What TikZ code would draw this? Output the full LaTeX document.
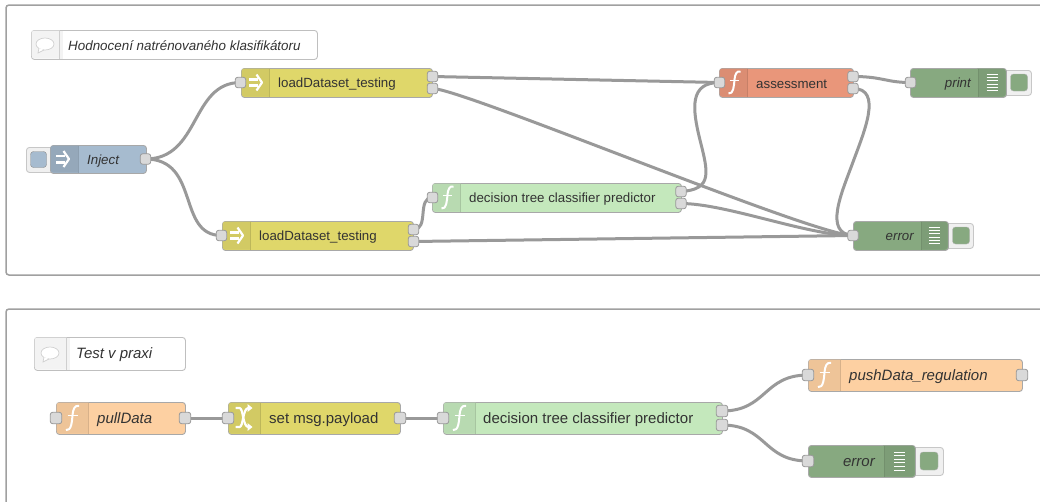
\documentclass[tikz,border=0pt]{standalone}
\usepackage{fontspec}
\setmainfont{Liberation Sans}
\usetikzlibrary{backgrounds}
\definecolor{wirec}{HTML}{999999}
\definecolor{framec}{HTML}{A0A0A0}
\definecolor{portc}{HTML}{D9D9D9}
\definecolor{txt}{HTML}{333333}
\definecolor{injc}{HTML}{A6BBCF}
\definecolor{yelc}{HTML}{DFD76A}
\definecolor{orac}{HTML}{FDD0A2}
\definecolor{grnc}{HTML}{C4E8BC}
\definecolor{salc}{HTML}{E9967A}
\definecolor{dbgc}{HTML}{87A980}
\definecolor{cmtc}{HTML}{F3F3F3}
\tikzset{
  x=1pt,y=-1pt,
  wire/.style={draw=wirec,line width=3pt,line cap=round},
  frame/.style={draw=framec,line width=1.5pt,rounded corners=3pt},
  box/.style={draw=wirec!85,line width=.9pt,rounded corners=3pt,inner sep=0pt,anchor=north west},
  port/.style={draw=wirec,fill=portc,line width=.8pt,rounded corners=2.5pt,minimum width=10.5pt,minimum height=10.5pt,inner sep=0pt},
  portb/.style={port,minimum width=11.5pt,minimum height=11.5pt},
  labl/.style={text=txt,anchor=west,inner sep=0pt,yshift=-1.5pt,font=\fontsize{13.3}{15}\selectfont},
  labi/.style={labl,font=\fontsize{13.3}{15}\selectfont\itshape},
  lablb/.style={labl,font=\fontsize{15}{17}\selectfont},
  labib/.style={labl,font=\fontsize{15}{17}\selectfont\itshape},
  labc/.style={labl,font=\fontsize{13.4}{15}\selectfont\itshape},
  ico/.style={draw=white,line width=1.4pt,line cap=round,line join=round},
}
\newcommand{\flowbox}[6]{%
  \node[box,fill=#6,minimum width={(#4-#2)*1pt},minimum height={(#5-#3)*1pt}] (#1) at (#2,#3) {};
}
\newcommand{\iconleft}[6]{% x1,y1,xdiv,y2,colour,shade
  \fill[#5!#6!black,rounded corners=3pt] (#1+.5,#2+.5) -- (#3+3,#2+.5) -- (#3+3,#4-.5) -- (#1+.5,#4-.5) -- cycle;
  \fill[#5] (#3,#2+.5) rectangle (#3+4,#4-.5);
  \draw[#5!85!black,line width=.5pt] (#3,#2+.5) -- (#3,#4-.5);
}
\newcommand{\iconright}[5]{% xdiv,y1,x2,y2,colour
  \fill[#5!93!black,rounded corners=3pt] (#1-3,#2+.5) -- (#3-.5,#2+.5) -- (#3-.5,#4-.5) -- (#1-3,#4-.5) -- cycle;
  \fill[#5] (#1-4,#2+.5) rectangle (#1,#4-.5);
  \draw[#5!85!black,line width=.5pt] (#1,#2+.5) -- (#1,#4-.5);
}
\newcommand{\fnicon}[3]{% cx, cy, scale
  \draw[ico,line width=2pt,line cap=butt] (#1+6.5*#3,#2-11*#3) .. controls (#1+2.5*#3,#2-12*#3) and (#1+1*#3,#2-8*#3) .. (#1+.5*#3,#2-3*#3) .. controls (#1,#2+3*#3) and (#1-.5*#3,#2+12*#3) .. (#1-5.5*#3,#2+11*#3);
  \draw[ico,line width=1.2pt,line cap=butt] (#1-4*#3,#2-2*#3) -- (#1+5*#3,#2-2*#3);
}
\newcommand{\arrowicon}[3]{% cx, cy, scale
  \draw[ico,line width=2.6pt,line cap=butt] (#1-7*#3,#2-3.2*#3) -- (#1+2*#3,#2-3.2*#3) (#1-7*#3,#2+3.2*#3) -- (#1+2*#3,#2+3.2*#3);
  \draw[ico,line width=2.2pt,line cap=butt] (#1+.5*#3,#2-8*#3) -- (#1+6*#3,#2) -- (#1+.5*#3,#2+8*#3);
}
\newcommand{\shuffleicon}[2]{% cx, cy
  \draw[ico,line width=2.2pt,line cap=butt] (#1-8,#2-10) -- (#1-4,#2-10) .. controls (#1,#2-10) and (#1-1,#2+9) .. (#1+5,#2+9);
  \draw[ico,line width=2.2pt,line cap=butt] (#1-8,#2+9) -- (#1-4,#2+9) .. controls (#1,#2+9) and (#1-1,#2-10) .. (#1+5,#2-10);
  \fill[white] (#1+4,#2-14) -- (#1+9,#2-10) -- (#1+4,#2-6) -- cycle (#1+4,#2+5) -- (#1+9,#2+9) -- (#1+4,#2+13) -- cycle;
}
\newcommand{\dbgicon}[3]{% cx, cy, spacing
  \foreach \k in {-3,-2,-1,0,1,2}{\draw[white,line width=1pt] (#1-5.5,#2+\k*#3+.5*#3) -- (#1+5.5,#2+\k*#3+.5*#3);}
}
\newcommand{\bubble}[2]{% cx, cy
  \draw[draw=black!18,fill=white,line width=.7pt] (#1,#2) ellipse (9 and 6);
  \draw[draw=black!18,fill=white,line width=.7pt] (#1-6,#2+4) -- (#1-7,#2+9) -- (#1-1,#2+6);
}
\newcommand{\btn}[5]{% name,x1,y1,x2,y2
  \node[box,draw=black!22,fill=black!6,minimum width={(#4-#2)*1pt},minimum height={(#5-#3)*1pt}] (#1) at (#2,#3) {};
}
\begin{document}
\begin{tikzpicture}
\useasboundingbox (0,0) rectangle (1040,501);
\begin{scope}[on background layer]
\fill[white] (0,0) rectangle (1040,501);
\draw[frame] (1045,5) -- (6,5) -- (6,275) -- (1045,275);
\draw[frame] (1045,309) -- (6,309) -- (6,510);
\end{scope}

% ---- top panel
\node[box,draw=black!25,fill=white] (c1) at (31,30) [minimum width=286pt,minimum height=29pt] {};
\iconleft{31}{30}{59}{59}{cmtc}{100}
\bubble{45}{44}
\node[labc] (c1t) at (68,44.5) {Hodnocení natrénovaného klasifikátoru};

\btn{injb}{26}{147}{54}{172}
\node[draw=black!45,fill=injc,rounded corners=3pt,minimum width=16pt,minimum height=16pt,inner sep=0pt] (injbi) at (38.5,159.5) {};
\flowbox{inj}{50}{145}{146}{173}{injc}
\iconleft{50}{145}{78}{173}{injc}{90}
\arrowicon{63}{159}{1}
\node[labi] (injt) at (87,159.5) {Inject};
\node[port] (inj-o) at (145.5,159) {};

\flowbox{l1}{241}{68}{432}{97}{yelc}
\iconleft{241}{68}{269}{97}{yelc}{94}
\arrowicon{256}{82.5}{1}
\node[labl] (l1t) at (278,82.5) {loadDataset\_testing};
\node[port] (l1-i) at (240.5,82.5) {};
\node[port] (l1-a) at (432.5,76.5) {};
\node[port] (l1-b) at (432.5,88.5) {};

\flowbox{l2}{222}{221}{413}{250}{yelc}
\iconleft{222}{221}{250}{250}{yelc}{94}
\arrowicon{237}{235.5}{1}
\node[labl] (l2t) at (259,235.5) {loadDataset\_testing};
\node[port] (l2-i) at (221.5,235.5) {};
\node[port] (l2-a) at (413.5,229.5) {};
\node[port] (l2-b) at (413.5,241.5) {};

\flowbox{d1}{432}{183}{681}{212}{grnc}
\iconleft{432}{183}{460}{212}{grnc}{94}
\fnicon{447}{197.5}{1}
\node[labl] (d1t) at (469,197.5) {decision tree classifier predictor};
\node[port] (d1-i) at (432.5,197.5) {};
\node[port] (d1-a) at (681,191.5) {};
\node[port] (d1-b) at (681,203.5) {};

\flowbox{as}{719}{68}{853}{97}{salc}
\iconleft{719}{68}{747}{97}{salc}{94}
\fnicon{734}{82.5}{1}
\node[labl] (ast) at (756,82.5) {assessment};
\node[port] (as-i) at (719.5,82.5) {};
\node[port] (as-a) at (853,76.5) {};
\node[port] (as-b) at (853,88.5) {};

\btn{prb}{1000}{70}{1031}{95}
\node[draw=black!30,fill=dbgc,rounded corners=3pt,minimum width=17pt,minimum height=17pt,inner sep=0pt] (prbi) at (1019,82.5) {};
\flowbox{pr}{910}{68}{1006}{97}{dbgc}
\iconright{978}{68}{1006}{97}{dbgc}
\dbgicon{992}{82.5}{3.3}
\node[labi,anchor=east] (prt) at (971,82.5) {print};
\node[port] (pr-i) at (910.5,82.5) {};

\btn{erb}{942}{223}{973}{248}
\node[draw=black!30,fill=dbgc,rounded corners=3pt,minimum width=17pt,minimum height=17pt,inner sep=0pt] (erbi) at (961,235.5) {};
\flowbox{er}{853}{221}{948}{250}{dbgc}
\iconright{921}{221}{948}{250}{dbgc}
\dbgicon{934.5}{235.5}{3.3}
\node[labi,anchor=east] (ert) at (914,235.5) {error};
\node[port] (er-i) at (853,235.5) {};

% ---- bottom panel
\node[box,draw=black!25,fill=white] (c2) at (34,337) [minimum width=151pt,minimum height=33pt] {};
\iconleft{34}{337}{66}{370}{cmtc}{100}
\bubble{50}{353}
\node[labc,font=\fontsize{15}{17}\selectfont\itshape] (c2t) at (76,353.5) {Test v praxi};

\flowbox{pd}{56}{402}{185}{434}{orac}
\iconleft{56}{402}{88}{434}{orac}{94}
\fnicon{72}{418}{1.1}
\node[labib] (pdt) at (97,418) {pullData};
\node[portb] (pd-i) at (56,418) {};
\node[portb] (pd-o) at (185,418) {};

\flowbox{sm}{228}{402}{400}{434}{yelc}
\iconleft{228}{402}{260}{434}{yelc}{94}
\shuffleicon{243.5}{418}
\node[lablb] (smt) at (269,418) {set msg.payload};
\node[portb] (sm-i) at (228,418) {};
\node[portb] (sm-o) at (400,418) {};

\flowbox{d2}{443}{402}{722}{434}{grnc}
\iconleft{443}{402}{475}{434}{grnc}{94}
\fnicon{459}{418}{1.1}
\node[lablb] (d2t) at (483,418) {decision tree classifier predictor};
\node[portb] (d2-i) at (443,418) {};
\node[portb] (d2-a) at (722,411) {};
\node[portb] (d2-b) at (722,425) {};

\flowbox{pu}{808}{359}{1022}{391}{orac}
\iconleft{808}{359}{840}{391}{orac}{94}
\fnicon{824}{375}{1.1}
\node[labib] (put) at (849,375) {pushData\_regulation};
\node[portb] (pu-i) at (808,375) {};
\node[portb] (pu-o) at (1022,375) {};

\btn{e2b}{908}{447}{943}{475}
\node[draw=black!30,fill=dbgc,rounded corners=3pt,minimum width=18pt,minimum height=18pt,inner sep=0pt] (e2bi) at (929,461) {};
\flowbox{e2}{808}{445}{915}{477}{dbgc}
\iconright{884}{445}{915}{477}{dbgc}
\dbgicon{899.5}{461}{3.6}
\node[labib,anchor=east] (e2t) at (875,461) {error};
\node[portb] (e2-i) at (808,461) {};

% ---- wires
\begin{scope}[on background layer]
\draw[wire] (inj-o.center) .. controls +(55,0) and +(-50,0) .. (l1-i.center);
\draw[wire] (inj-o.center) .. controls +(55,0) and +(-45,0) .. (l2-i.center);
\draw[wire] (l1-a.center) -- (as-i.center);
\draw[wire] (l1-b.center) .. controls +(30,0) and +(-40,0) .. (er-i.center);
\draw[wire] (l2-a.center) .. controls +(16,0) and +(-16,0) .. (d1-i.center);
\draw[wire] (l2-b.center) -- (er-i.center);
\draw[wire] (d1-a.center) .. controls +(32,-2) and +(8,32) .. (700,140) .. controls +(-8,-32) and +(-30,0) .. (as-i.center);
\draw[wire] (d1-b.center) .. controls +(45,0) and +(-45,0) .. (er-i.center);
\draw[wire] (as-a.center) .. controls +(30,0) and +(-25,0) .. (pr-i.center);
\draw[wire] (as-b.center) .. controls +(30,0) and +(11,-30) .. (853,162) .. controls +(-11,30) and +(-30,-2) .. (er-i.center);
\draw[wire] (pd-o.center) -- (sm-i.center);
\draw[wire] (sm-o.center) -- (d2-i.center);
\draw[wire] (d2-a.center) .. controls +(45,0) and +(-45,0) .. (pu-i.center);
\draw[wire] (d2-b.center) .. controls +(45,0) and +(-45,0) .. (e2-i.center);
\end{scope}
\end{tikzpicture}
\end{document}
